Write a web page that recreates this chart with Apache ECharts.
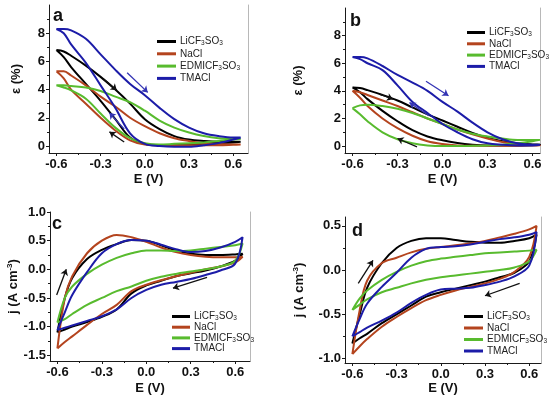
<!DOCTYPE html>
<html>
<head>
<meta charset="utf-8">
<script src="https://cdn.jsdelivr.net/npm/echarts@6/dist/echarts.min.js"></script>
<style>html,body{margin:0;padding:0;background:#fff}#c{width:550px;height:399px}</style>
</head>
<body>
<div id="c"></div>
<script>
// Potential grid (V), values listed in ascending E for both scan directions
const E_V = [-0.6,-0.55,-0.5,-0.4,-0.3,-0.2,-0.1,0,0.1,0.2,0.3,0.4,0.5,0.6,0.65];

// Panel a: strain (%) - forward (increasing E) and reverse (decreasing E)
const a_li_fwd = [6.8,6.7,6.4,5.7,4.9,4.0,3.0,1.9,1.2,0.7,0.45,0.35,0.3,0.3,0.3];
const a_li_rev = [6.8,6.3,5.6,4.4,3.2,1.9,0.6,0.15,0.05,0.05,0.1,0.15,0.2,0.25,0.3];
const a_na_fwd = [5.3,5.3,5.0,4.3,3.5,2.8,2.0,1.4,0.9,0.55,0.35,0.2,0.15,0.1,0.1];
const a_na_rev = [5.3,4.8,4.0,3.0,2.0,1.1,0.4,0.1,0.05,0.05,0.05,0.05,0.05,0.08,0.1];
const a_ed_fwd = [4.3,4.3,4.25,4.15,3.9,3.5,3.1,2.5,1.8,1.3,0.95,0.7,0.55,0.5,0.5];
const a_ed_rev = [4.3,4.15,3.95,3.35,2.3,1.3,0.55,0.2,0.1,0.15,0.2,0.25,0.35,0.45,0.5];
const a_tm_fwd = [8.3,8.3,8.2,7.6,6.5,5.4,4.4,3.6,2.7,1.9,1.3,0.9,0.7,0.6,0.6];
const a_tm_rev = [8.3,8.0,7.2,5.9,4.3,2.7,0.9,0.15,0.0,-0.05,-0.05,0.05,0.2,0.45,0.6];

// Panel b: strain (%)
const b_li_fwd = [4.25,4.2,4.05,3.7,3.3,2.8,2.3,1.85,1.4,0.95,0.6,0.35,0.2,0.12,0.1];
const b_li_rev = [4.25,3.9,3.4,2.55,1.8,1.15,0.7,0.42,0.22,0.1,0.05,0.05,0.05,0.08,0.1];
const b_na_fwd = [4.0,3.9,3.7,3.3,2.9,2.45,2.0,1.6,1.2,0.85,0.55,0.3,0.15,0.08,0.05];
const b_na_rev = [4.0,3.5,2.9,2.0,1.3,0.75,0.35,0.15,0.05,0.02,0.02,0.02,0.03,0.04,0.05];
const b_ed_fwd = [2.75,2.95,3.0,2.9,2.7,2.4,2.0,1.6,1.2,0.9,0.7,0.55,0.45,0.45,0.45];
const b_ed_rev = [2.75,2.3,1.8,1.0,0.5,0.2,0.05,0.0,0.0,0.02,0.05,0.1,0.2,0.35,0.45];
const b_tm_fwd = [6.45,6.45,6.35,5.8,5.15,4.6,4.0,3.2,2.5,1.7,1.0,0.5,0.2,0.1,0.1];
const b_tm_rev = [6.45,6.3,6.0,5.5,4.4,3.2,2.4,1.6,1.0,0.5,0.2,0.1,0.05,0.05,0.1];

// Panel c: current density (A cm-3)
const c_li_fwd = [-1.1,-0.5,-0.15,0.18,0.34,0.44,0.51,0.5,0.42,0.33,0.27,0.25,0.25,0.26,0.27];
const c_li_rev = [-1.1,-1.05,-1.0,-0.92,-0.83,-0.7,-0.42,-0.28,-0.2,-0.12,-0.07,-0.02,0.05,0.15,0.27];
const c_na_fwd = [-1.38,-0.5,-0.12,0.28,0.5,0.6,0.56,0.48,0.38,0.3,0.25,0.22,0.21,0.21,0.22];
const c_na_rev = [-1.38,-1.27,-1.17,-0.97,-0.78,-0.62,-0.38,-0.27,-0.19,-0.12,-0.06,0.0,0.05,0.12,0.22];
const c_ed_fwd = [-0.93,-0.5,-0.3,-0.08,0.08,0.2,0.28,0.33,0.33,0.32,0.33,0.36,0.39,0.42,0.45];
const c_ed_rev = [-0.93,-0.87,-0.78,-0.62,-0.5,-0.38,-0.3,-0.2,-0.13,-0.08,-0.04,0.0,0.05,0.15,0.45];
const c_tm_fwd = [-1.06,-0.75,-0.45,-0.05,0.28,0.44,0.51,0.5,0.43,0.35,0.3,0.32,0.38,0.48,0.56];
const c_tm_rev = [-1.06,-1.02,-0.98,-0.9,-0.82,-0.7,-0.5,-0.36,-0.27,-0.22,-0.17,-0.1,-0.02,0.1,0.56];

// Panel d: current density (A cm-3)
const d_li_fwd = [-0.83,-0.5,-0.2,0.08,0.25,0.33,0.36,0.36,0.34,0.32,0.31,0.31,0.33,0.36,0.4];
const d_li_rev = [-0.83,-0.77,-0.72,-0.6,-0.5,-0.4,-0.3,-0.25,-0.21,-0.17,-0.13,-0.08,-0.03,0.1,0.4];
const d_na_fwd = [-0.95,-0.45,-0.12,0.08,0.14,0.2,0.24,0.26,0.28,0.3,0.33,0.37,0.41,0.46,0.5];
const d_na_rev = [-0.95,-0.86,-0.78,-0.64,-0.53,-0.43,-0.34,-0.28,-0.23,-0.19,-0.15,-0.1,-0.02,0.15,0.5];
const d_ed_fwd = [-0.45,-0.32,-0.23,-0.11,-0.02,0.05,0.1,0.13,0.15,0.17,0.19,0.2,0.21,0.22,0.23];
const d_ed_rev = [-0.45,-0.39,-0.33,-0.25,-0.2,-0.15,-0.11,-0.08,-0.06,-0.04,-0.02,0.0,0.03,0.1,0.23];
const d_tm_fwd = [-0.75,-0.55,-0.38,-0.19,-0.03,0.14,0.24,0.26,0.27,0.29,0.32,0.35,0.37,0.4,0.43];
const d_tm_rev = [-0.75,-0.7,-0.65,-0.57,-0.48,-0.37,-0.28,-0.22,-0.21,-0.2,-0.17,-0.13,-0.07,0.05,0.43];

// Scan-direction arrows: [start E, start value, end E, end value, series key]
const arrows_a = [[-0.28,4.75,-0.19,3.95,'li'],[-0.12,5.2,0.02,3.8,'tm'],[-0.14,1.2,-0.24,2.35,'tm'],[-0.14,0.28,-0.24,1.0,'li']];
const arrows_b = [[-0.42,3.76,-0.33,3.4,'li'],[-0.11,4.7,0.04,3.65,'tm'],[-0.09,2.2,-0.22,3.15,'tm'],[-0.17,-0.05,-0.3,0.55,'li']];
const arrows_c = [[-0.605,-0.45,-0.54,0.0,'li'],[0.41,-0.14,0.18,-0.33,'li']];
const arrows_d = [[-0.56,-0.15,-0.46,0.11,'li'],[0.535,-0.15,0.3,-0.29,'li']];

// Tick labels
const X_TICKS = [-0.6,-0.3,0,0.3,0.6];
const X_MINOR = [-0.45,-0.15,0.15,0.45];
const STRAIN_TICKS = [0,2,4,6,8];
const STRAIN_MINOR = [1,3,5,7,9];
const J_TICKS_C = [-1.5,-1.0,-0.5,0,0.5,1.0];
const J_MINOR_C = [-1.25,-0.75,-0.25,0.25,0.75];
const J_TICKS_D = [-1.0,-0.5,0,0.5];
const J_MINOR_D = [-0.75,-0.25,0.25];

const NAMES = {li:'LiCF3SO3', na:'NaCl', ed:'EDMICF3SO3', tm:'TMACl'};
const KEYS = ['li','na','ed','tm'];
const COLORS = {li:'#000000', na:'#b4441e', ed:'#58bb2e', tm:'#1c1ca8'};
const ARROW_COLORS = {li:'#111111', tm:'#3434b4'};
const RICH_NAMES = {
  'LiCF3SO3':'{n|LiCF}{s|3}{n|SO}{s|3}',
  'NaCl':'{n|NaCl}',
  'EDMICF3SO3':'{n|EDMICF}{s|3}{n|SO}{s|3}',
  'TMACl':'{n|TMACl}'
};
const FONT = '"Liberation Sans", Arial, sans-serif';

const panels = [
  {grid:{left:49, top:5, width:199, height:148}, xr:[-0.65,0.7], yr:[-0.5,10], yt:STRAIN_TICKS, ym:STRAIN_MINOR, yfmt:v=>String(Math.round(v)),
   yname:'ε (%)', ynameGap:26, xnameGap:20,
   data:{li:[a_li_fwd,a_li_rev],na:[a_na_fwd,a_na_rev],ed:[a_ed_fwd,a_ed_rev],tm:[a_tm_fwd,a_tm_rev]}, arrows:arrows_a,
   legend:{left:157, top:36, itemWidth:19, gap:1.8}, letter:{t:'a', x:53, y:16}},
  {grid:{left:345, top:8, width:195, height:145}, xr:[-0.65,0.65], yr:[-0.5,10], yt:STRAIN_TICKS, ym:STRAIN_MINOR, yfmt:v=>String(Math.round(v)),
   yname:'ε (%)', ynameGap:40, xnameGap:20,
   data:{li:[b_li_fwd,b_li_rev],na:[b_na_fwd,b_na_rev],ed:[b_ed_fwd,b_ed_rev],tm:[b_tm_fwd,b_tm_rev]}, arrows:arrows_b,
   legend:{left:467, top:27, itemWidth:18, gap:0.8}, letter:{t:'b', x:350, y:21}},
  {grid:{left:50, top:212, width:200, height:149}, xr:[-0.65,0.7], yr:[-1.6,1.0], yt:J_TICKS_C, ym:J_MINOR_C, yfmt:v=>v.toFixed(1),
   yname:'j', ynameGap:27, xnameGap:21,
   data:{li:[c_li_fwd,c_li_rev],na:[c_na_fwd,c_na_rev],ed:[c_ed_fwd,c_ed_rev],tm:[c_tm_fwd,c_tm_rev]}, arrows:arrows_c,
   legend:{left:172, top:311, itemWidth:18, gap:0.2}, letter:{t:'c', x:52, y:224}},
  {grid:{left:345, top:217, width:196, height:146}, xr:[-0.65,0.68], yr:[-1.05,0.6], yt:J_TICKS_D, ym:J_MINOR_D, yfmt:v=>v.toFixed(1),
   yname:'j', ynameGap:39, xnameGap:19,
   data:{li:[d_li_fwd,d_li_rev],na:[d_na_fwd,d_na_rev],ed:[d_ed_fwd,d_ed_rev],tm:[d_tm_fwd,d_tm_rev]}, arrows:arrows_d,
   legend:{left:464, top:311, itemWidth:19, gap:1}, letter:{t:'d', x:352, y:231}}
];

function loop(fwd, rev){
  const pts = E_V.map((e,i)=>[e,fwd[i]]);
  for (let i = E_V.length - 2; i >= 0; i--) pts.push([E_V[i], rev[i]]);
  return pts;
}

const grid=[], xAxis=[], yAxis=[], series=[], legend=[], graphic=[];
const axisCol = '#1a1a1a';
const tickLabel = {fontFamily:FONT, fontWeight:'bold', fontSize:13, color:'#111'};

panels.forEach((p, gi) => {
  grid.push(Object.assign({containLabel:false}, p.grid));
  const xi = xAxis.length, yi = yAxis.length;
  xAxis.push({type:'value', gridIndex:gi, min:p.xr[0], max:p.xr[1], position:'bottom',
    splitLine:{show:false},
    axisLine:{show:true, onZero:false, lineStyle:{color:axisCol, width:1}},
    axisTick:{show:true, inside:false, length:3, customValues:X_TICKS, lineStyle:{color:axisCol}},
    axisLabel:Object.assign({customValues:X_TICKS, margin:5, formatter:v=>Number(v).toFixed(1)}, tickLabel),
    name:'E (V)', nameLocation:'middle', nameGap:p.xnameGap,
    nameTextStyle:{fontFamily:FONT, fontWeight:'bold', fontSize:13, color:'#111'}});
  xAxis.push({type:'value', gridIndex:gi, min:p.xr[0], max:p.xr[1], position:'bottom',
    splitLine:{show:false}, axisLine:{show:false, onZero:false},
    axisTick:{show:true, length:2, customValues:X_MINOR, lineStyle:{color:axisCol}},
    axisLabel:{show:false}});
  const ynameObj = p.yname === 'j'
    ? {name:'{n|j (A cm}{sup|-3}{n|)}', nameTextStyle:{rich:{
        n:{fontFamily:FONT, fontWeight:'bold', fontSize:13, color:'#111'},
        sup:{fontFamily:FONT, fontWeight:'bold', fontSize:8, color:'#111', verticalAlign:'top', padding:[0,0,6,0]}}}}
    : {name:p.yname, nameTextStyle:{fontFamily:FONT, fontWeight:'bold', fontSize:13, color:'#111'}};
  yAxis.push(Object.assign({type:'value', gridIndex:gi, min:p.yr[0], max:p.yr[1], position:'left',
    splitLine:{show:false},
    axisLine:{show:true, onZero:false, lineStyle:{color:axisCol, width:1}},
    axisTick:{show:true, length:3, customValues:p.yt, lineStyle:{color:axisCol}},
    axisLabel:Object.assign({customValues:p.yt, margin:4, formatter:p.yfmt}, tickLabel),
    nameLocation:'middle', nameGap:p.ynameGap, nameRotate:90}, ynameObj));
  yAxis.push({type:'value', gridIndex:gi, min:p.yr[0], max:p.yr[1], position:'left',
    splitLine:{show:false}, axisLine:{show:false, onZero:false},
    axisTick:{show:true, length:2, customValues:p.ym, lineStyle:{color:axisCol}},
    axisLabel:{show:false}});
  yAxis.push({type:'value', gridIndex:gi, min:p.yr[0], max:p.yr[1], position:'right',
    splitLine:{show:false}, axisLine:{show:true, onZero:false, lineStyle:{color:'#b8b8b8', width:1}},
    axisTick:{show:false}, axisLabel:{show:false}});

  KEYS.forEach(k => {
    const s = {type:'line', name:NAMES[k], xAxisIndex:xi, yAxisIndex:yi,
      data:loop(p.data[k][0], p.data[k][1]), smooth:0.35, showSymbol:false, symbol:'none',
      lineStyle:{color:COLORS[k], width:2}, itemStyle:{color:COLORS[k]}, z:2, silent:true};
    const arr = p.arrows.filter(a => a[4] === k);
    if (arr.length) {
      s.markLine = {silent:true, symbol:['none','arrow'], symbolSize:6, animation:false,
        label:{show:false}, emphasis:{disabled:true},
        data: arr.map(a => [{coord:[a[0],a[1]], lineStyle:{color:ARROW_COLORS[k], width:1.3, type:'solid'}, itemStyle:{color:ARROW_COLORS[k]}},
                            {coord:[a[2],a[3]]}])};
    }
    series.push(s);
  });

  legend.push({orient:'vertical', left:p.legend.left, top:p.legend.top, padding:0,
    itemWidth:p.legend.itemWidth, itemHeight:3, itemGap:p.legend.gap, icon:'rect',
    data:KEYS.map(k=>NAMES[k]), selectedMode:false,
    formatter:name => RICH_NAMES[name],
    textStyle:{padding:[0,0,0,-1], rich:{
      n:{fontFamily:FONT, fontSize:10, color:'#222', lineHeight:11},
      s:{fontFamily:FONT, fontSize:6.5, color:'#222', lineHeight:11, verticalAlign:'bottom', padding:[4,0,0,0]}}}});

  graphic.push({type:'text', x:p.letter.x, y:p.letter.y,
    style:{text:p.letter.t, font:'bold 18px ' + FONT, fill:'#111', verticalAlign:'middle', align:'left'}});
});

const chart = echarts.init(document.getElementById('c'), null, {renderer:'canvas'});
chart.setOption({animation:false, backgroundColor:'#fff', grid, xAxis, yAxis, series, legend, graphic});
</script>
</body>
</html>
